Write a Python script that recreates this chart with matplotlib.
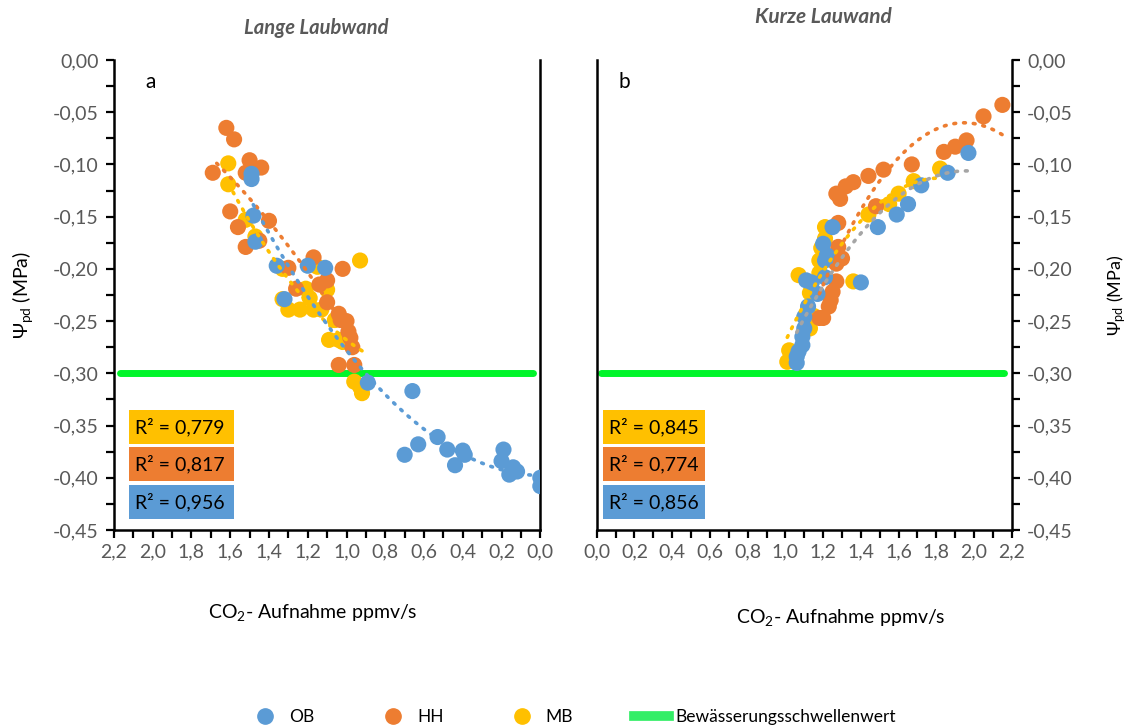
import numpy as np
import matplotlib
matplotlib.use("Agg")
from matplotlib import pyplot as plt
from matplotlib.patches import Rectangle
from matplotlib.lines import Line2D
from matplotlib.ticker import MultipleLocator, FuncFormatter

plt.rcParams["font.family"] = ["Lato", "DejaVu Sans"]
plt.rcParams["mathtext.default"] = "regular"

C_OB = "#5B9BD5"
C_HH = "#ED7D31"
C_MB = "#FFC000"
C_GRUEN = "#00F52A"
C_TEXT = "#595959"

SCHWELLE = -0.30

# Lange Laubwand (a)
a_ob_x = [1.49, 1.49, 1.48, 1.47, 1.36, 1.20, 1.11, 1.32, 0.89, 0.66, 0.70, 0.63, 0.53, 0.48,
          0.44, 0.40, 0.39, 0.20, 0.19, 0.16, 0.14, 0.12, 0.00, 0.00]
a_ob_y = [-0.109, -0.114, -0.149, -0.174, -0.197, -0.197, -0.199, -0.229, -0.309, -0.317, -0.378,
          -0.368, -0.361, -0.373, -0.388, -0.374, -0.378, -0.384, -0.373, -0.397, -0.390, -0.394,
          -0.400, -0.408]
a_hh_x = [1.62, 1.58, 1.50, 1.44, 1.69, 1.52, 1.60, 1.40, 1.56, 1.45, 1.52, 1.17, 1.30, 1.02,
          1.10, 1.14, 1.26, 1.10, 1.04, 1.03, 1.00, 0.99, 0.98, 0.97, 1.04, 0.96]
a_hh_y = [-0.065, -0.076, -0.096, -0.103, -0.108, -0.108, -0.145, -0.154, -0.160, -0.173, -0.179,
          -0.189, -0.199, -0.200, -0.211, -0.215, -0.219, -0.232, -0.243, -0.249, -0.250, -0.260,
          -0.266, -0.275, -0.292, -0.292]
a_mb_x = [1.61, 1.61, 1.52, 1.47, 0.93, 1.15, 1.33, 1.10, 1.21, 1.33, 1.19, 1.30, 1.24, 1.17,
          1.13, 1.06, 1.09, 1.04, 1.02, 0.96, 0.93, 0.92]
a_mb_y = [-0.099, -0.119, -0.153, -0.169, -0.192, -0.198, -0.200, -0.220, -0.219, -0.229, -0.228,
          -0.239, -0.239, -0.239, -0.239, -0.249, -0.268, -0.268, -0.270, -0.308, -0.313, -0.319]
a_r2 = ["0,779", "0,817", "0,956"]

# Kurze Laubwand (b)
b_ob_x = [1.97, 1.86, 1.72, 1.65, 1.59, 1.49, 1.25, 1.20, 1.22, 1.21, 1.21, 1.11, 1.14, 1.40,
          1.17, 1.12, 1.10, 1.10, 1.09, 1.09, 1.07, 1.06, 1.06]
b_ob_y = [-0.089, -0.108, -0.120, -0.138, -0.148, -0.160, -0.160, -0.176, -0.187, -0.192, -0.208,
          -0.211, -0.213, -0.213, -0.224, -0.236, -0.246, -0.257, -0.265, -0.273, -0.279, -0.284,
          -0.290]
b_hh_x = [2.15, 2.05, 1.96, 1.90, 1.84, 1.67, 1.52, 1.44, 1.36, 1.32, 1.27, 1.29, 1.48, 1.28,
          1.28, 1.30, 1.27, 1.27, 1.25, 1.24, 1.23, 1.20, 1.18]
b_hh_y = [-0.043, -0.054, -0.077, -0.083, -0.088, -0.100, -0.105, -0.111, -0.117, -0.121, -0.128,
          -0.133, -0.140, -0.156, -0.179, -0.190, -0.195, -0.212, -0.222, -0.230, -0.236, -0.247,
          -0.247]
b_mb_x = [1.82, 1.68, 1.60, 1.55, 1.44, 1.21, 1.21, 1.18, 1.18, 1.07, 1.36, 1.13, 1.13, 1.02,
          1.01, 1.15, 1.19]
b_mb_y = [-0.104, -0.116, -0.128, -0.138, -0.148, -0.160, -0.171, -0.192, -0.204, -0.206, -0.212,
          -0.223, -0.257, -0.278, -0.289, -0.245, -0.180]
b_r2 = ["0,845", "0,774", "0,856"]


def trend(ax, x, y, color):
    # polynomischer Trend 2. Ordnung über den Datenbereich
    p = np.polyfit(x, y, 2)
    xs = np.linspace(min(x), max(x), 100)
    ax.plot(xs, np.polyval(p, xs), color=color, lw=2.6,
            linestyle=(0, (0.5, 2.2)), dash_capstyle="round", zorder=4)


def r2_boxes(ax, x0, werte):
    farben = [C_MB, C_HH, C_OB]
    y0s = [0.183, 0.104, 0.023]
    for w, f, y0 in zip(werte, farben, y0s):
        ax.add_patch(Rectangle((x0, y0), 0.247, 0.073, transform=ax.transAxes,
                               facecolor=f, edgecolor="none", zorder=6))
        ax.text(x0 + 0.015, y0 + 0.036, f"R² = {w}", transform=ax.transAxes,
                fontsize=14, va="center", ha="left", color="black", zorder=7)


komma = FuncFormatter(lambda v, pos: f"{v:.1f}".replace(".", ","))
komma2 = FuncFormatter(lambda v, pos: f"{v:.2f}".replace(".", ",").replace("-0,00", "0,00"))

fig = plt.figure(figsize=(11.28, 7.27), dpi=100)
ax1 = fig.add_axes([0.101, 0.271, 0.378, 0.6465])
ax2 = fig.add_axes([0.529, 0.271, 0.368, 0.6465])

for ax in (ax1, ax2):
    ax.set_ylim(-0.45, 0.0)
    ax.yaxis.set_major_locator(MultipleLocator(0.05))
    ax.yaxis.set_minor_locator(MultipleLocator(0.025))
    ax.xaxis.set_major_locator(MultipleLocator(0.2))
    ax.xaxis.set_minor_locator(MultipleLocator(0.1))
    ax.xaxis.set_major_formatter(komma)
    ax.yaxis.set_major_formatter(komma2)
    ax.spines["top"].set_visible(False)
    for s in ax.spines.values():
        s.set_linewidth(1.8)
        s.set_color("black")
    ax.tick_params(which="both", direction="out", length=6, width=1.6,
                   labelsize=14, labelcolor=C_TEXT, pad=5)
    ax.tick_params(axis="x", which="major", pad=4)

ax1.set_xlim(2.2, 0.0)
ax2.set_xlim(0.0, 2.2)
ax2.yaxis.tick_right()
ax2.tick_params(axis="y", which="both", left=False, right=True, labelleft=False, labelright=True)

ax1.axhline(SCHWELLE, xmin=0.014, xmax=0.984, color=C_GRUEN, lw=5, solid_capstyle="round", zorder=2)
ax2.axhline(SCHWELLE, xmin=0.01, xmax=0.98, color=C_GRUEN, lw=5, solid_capstyle="round", zorder=2)

ms = 135
ax1.scatter(a_mb_x, a_mb_y, s=ms, color=C_MB, edgecolors="none", zorder=3)
ax1.scatter(a_hh_x, a_hh_y, s=ms, color=C_HH, edgecolors="none", zorder=3)
ax1.scatter(a_ob_x, a_ob_y, s=ms, color=C_OB, edgecolors="none", zorder=3)
trend(ax1, a_hh_x, a_hh_y, C_HH)
trend(ax1, a_mb_x, a_mb_y, C_MB)
trend(ax1, a_ob_x, a_ob_y, C_OB)

ax2.scatter(b_mb_x, b_mb_y, s=ms, color=C_MB, edgecolors="none", zorder=3)
ax2.scatter(b_hh_x, b_hh_y, s=ms, color=C_HH, edgecolors="none", zorder=3)
ax2.scatter(b_ob_x, b_ob_y, s=ms, color=C_OB, edgecolors="none", zorder=3)
trend(ax2, b_hh_x, b_hh_y, C_HH)
trend(ax2, b_mb_x, b_mb_y, C_MB)
trend(ax2, b_ob_x, b_ob_y, "#A5A5A5")

r2_boxes(ax1, 0.035, a_r2)
r2_boxes(ax2, 0.0145, b_r2)

ax1.text(0.085, 0.953, "a", transform=ax1.transAxes, fontsize=15, va="center", ha="center")
ax2.text(0.067, 0.953, "b", transform=ax2.transAxes, fontsize=15, va="center", ha="center")

fig.text(0.280, 0.961, "Lange Laubwand", fontsize=14.5, style="italic", weight="bold",
         color=C_TEXT, ha="center", va="center")
fig.text(0.730, 0.977, "Kurze Lauwand", fontsize=15, style="italic", weight="bold",
         color=C_TEXT, ha="center", va="center")

fig.text(0.277, 0.158, "CO$_2$- Aufnahme ppmv/s", fontsize=14, ha="center", va="center")
fig.text(0.745, 0.151, "CO$_2$- Aufnahme ppmv/s", fontsize=14, ha="center", va="center")

fig.text(0.020, 0.594, "Ψ$_{pd}$ (MPa)", fontsize=14, rotation=90, ha="center", va="center")
fig.text(0.990, 0.594, "Ψ$_{pd}$ (MPa)", fontsize=13, rotation=90, ha="center", va="center")

handles = [
    Line2D([], [], marker="o", ls="none", color=C_OB, markersize=11),
    Line2D([], [], marker="o", ls="none", color=C_HH, markersize=11),
    Line2D([], [], marker="o", ls="none", color=C_MB, markersize=11),
    Line2D([], [], ls="-", color="#33EE66", lw=7),
]
fig.legend(handles, ["OB", "HH", "MB", "Bewässerungsschwellenwert"], loc="center",
           bbox_to_anchor=(0.507, 0.014), ncol=4, frameon=False, fontsize=12.5,
           handlelength=2.0, columnspacing=3.5, handletextpad=0.4)

fig.savefig("out.png", dpi=100, facecolor="white")
